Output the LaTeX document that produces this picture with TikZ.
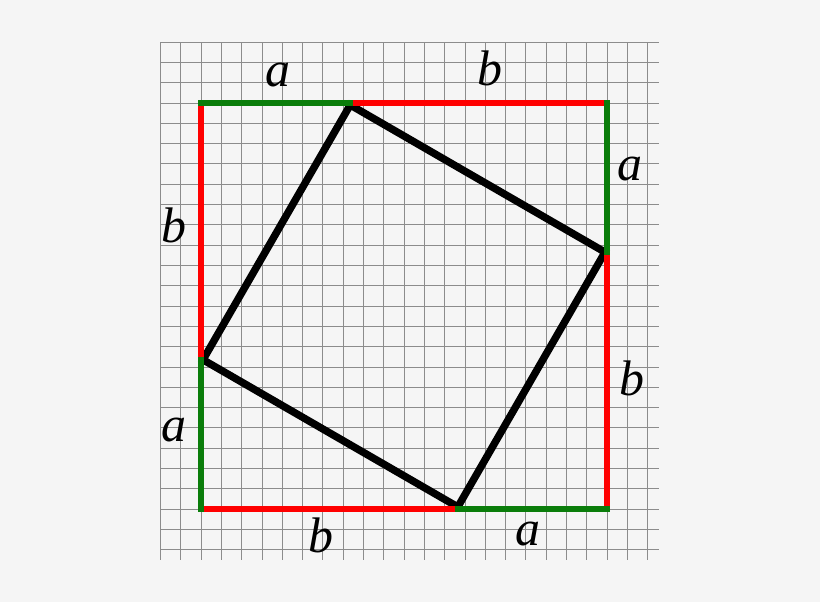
\documentclass[tikz,border=0pt]{standalone}
\usepackage{fontspec}
\setmainfont{Liberation Serif}
\definecolor{paper}{RGB}{245,245,245}
\definecolor{gridgray}{RGB}{140,140,140}
\definecolor{sidegreen}{RGB}{10,125,10}
\tikzstyle{gridline}=[draw=gridgray,line width=0.5pt]
\tikzstyle{sidea}=[draw=sidegreen,line width=4.5pt,line cap=rect]
\tikzstyle{sideb}=[draw=red,line width=4.5pt,line cap=rect]
\tikzstyle{tilted}=[draw=black,line width=5.2pt,line join=miter]
\tikzstyle{lbl}=[anchor=base,inner sep=0pt,font=\fontsize{35}{40}\selectfont\itshape]

\begin{document}
\begin{tikzpicture}[scale=0.5]
  \fill[paper] (-9.90,-4.58) rectangle (30.49,25.07);
  \useasboundingbox (-9.90,-4.58) rectangle (30.49,25.07);
  \draw[gridline] (-2,-2.51) grid (22.56,23.02);

  % corners of the big square and the points where a meets b
  \coordinate (sw) at (0,0);
  \coordinate (se) at (20,0);
  \coordinate (ne) at (20,20);
  \coordinate (nw) at (0,20);
  \coordinate (top) at (7.35,20);
  \coordinate (right) at (20,12.65);
  \coordinate (bottom) at (12.65,0);
  \coordinate (left) at (0,7.35);

  % tilted square, its corners kept just inside the sides
  \draw[tilted] ([yshift=-0.1cm]top) -- ([xshift=-0.1cm]right)
    -- ([yshift=0.1cm]bottom) -- ([xshift=0.1cm]left) -- cycle;

  \draw[sideb] (top) -- (ne);
  \draw[sideb] (right) -- (se);
  \draw[sideb] (bottom) -- (sw);
  \draw[sideb] (left) -- (nw);
  \draw[sidea] (nw) -- (top);
  \draw[sidea] (ne) -- (right);
  \draw[sidea] (se) -- (bottom);
  \draw[sidea] (sw) -- (left);

  \node[lbl] (topa) at (3.79,20.80) {a};
  \node[lbl] (topb) at (14.24,20.84) {b};
  \node[lbl] (righta) at (21.13,16.16) {a};
  \node[lbl] (rightb) at (21.23,5.57) {b};
  \node[lbl] (leftb) at (-1.33,13.12) {b};
  \node[lbl] (lefta) at (-1.33,3.30) {a};
  \node[lbl] (bottomb) at (5.91,-2.12) {b};
  \node[lbl] (bottoma) at (16.11,-1.82) {a};
\end{tikzpicture}
\end{document}
